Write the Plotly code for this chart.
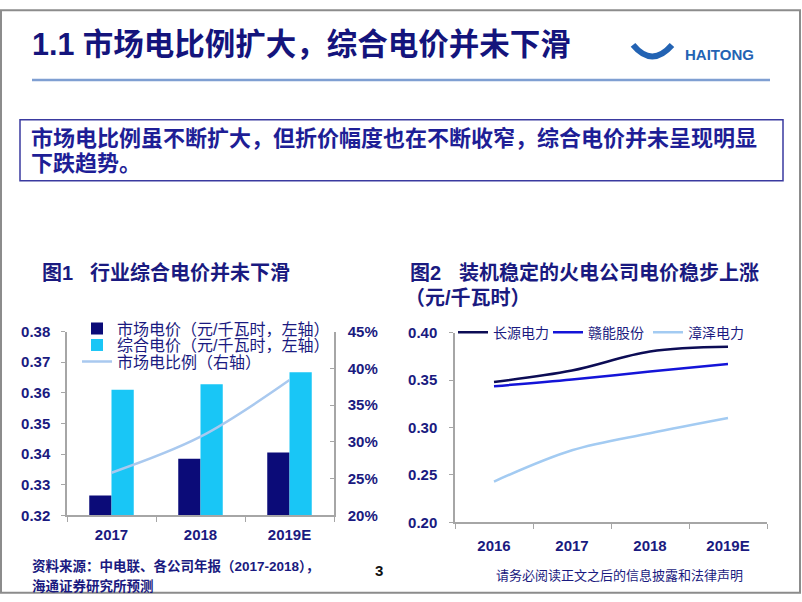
import plotly.graph_objects as go

# ---------------- data ----------------
years1 = ["2017", "2018", "2019E"]
market_price = [0.3265, 0.3385, 0.3405]       # 市场电价（左轴）
overall_price = [0.3610, 0.3628, 0.3667]      # 综合电价（左轴）
market_share = [0.258, 0.307, 0.384]          # 市场电比例（右轴）

years2 = ["2016", "2017", "2018", "2019E"]
changyuan = [0.348, 0.360, 0.380, 0.385]      # 长源电力
ganneng = [0.3435, 0.3505, 0.359, 0.367]      # 赣能股份
zhangze = [0.243, 0.276, 0.294, 0.310]        # 漳泽电力

W, H = 802, 602


def px(x):
    return x / W


def py(y):
    # y given in target-screen pixels; compensate for page offset/scale
    yf = (y - 9) / 0.973
    yf = min(max(yf, 0), H)
    return 1 - yf / H


NAVY = "#1a1a80"
FONT = "Liberation Sans, Noto Sans CJK SC, Arial, sans-serif"
AXIS_GRAY = "#a6a6a6"

fig = go.Figure()

# chart 1 bars + ratio line
fig.add_trace(go.Bar(x=years1, y=market_price, name="市场电价（元/千瓦时，左轴）",
                     marker_color="#0b0b78", marker_line_width=0,
                     xaxis="x", yaxis="y", legend="legend"))
fig.add_trace(go.Bar(x=years1, y=overall_price, name="综合电价（元/千瓦时，左轴）",
                     marker_color="#19c6f6", marker_line_width=0,
                     xaxis="x", yaxis="y", legend="legend3"))
fig.add_trace(go.Scatter(x=years1, y=market_share, name="市场电比例（右轴）",
                         mode="lines", line=dict(color="#a9c9ef", width=2.5, shape="spline"),
                         xaxis="x", yaxis="y2", legend="legend4"))

# chart 2 lines
fig.add_trace(go.Scatter(x=years2, y=changyuan, name="长源电力", mode="lines",
                         line=dict(color="#0c0c55", width=2.5, shape="spline"),
                         xaxis="x2", yaxis="y3", legend="legend2"))
fig.add_trace(go.Scatter(x=years2, y=ganneng, name="赣能股份", mode="lines",
                         line=dict(color="#1414d8", width=2.5, shape="spline"),
                         xaxis="x2", yaxis="y3", legend="legend5"))
fig.add_trace(go.Scatter(x=years2, y=zhangze, name="漳泽电力", mode="lines",
                         line=dict(color="#a3cbf2", width=2.5, shape="spline"),
                         xaxis="x2", yaxis="y3", legend="legend6"))

tickfont = dict(family=FONT, size=15, color=NAVY, weight="bold")


def leg(x, y, size):
    return dict(x=px(x), y=py(y), xanchor="left", yanchor="middle",
                bgcolor="rgba(0,0,0,0)", font=dict(family=FONT, size=size, color=NAVY),
                itemwidth=30, borderwidth=0)


fig.update_layout(
    width=W, height=H,
    margin=dict(l=0, r=0, t=0, b=0),
    paper_bgcolor="white", plot_bgcolor="rgba(0,0,0,0)",
    barmode="group", bargap=0.5, bargroupgap=0,
    font=dict(family=FONT, color=NAVY),
    xaxis=dict(domain=[px(67), px(334)], type="category", range=[-0.5, 2.5],
               showline=True, linecolor=AXIS_GRAY, linewidth=1.5,
               ticks="outside", tickson="boundaries", ticklen=5, tickcolor=AXIS_GRAY,
               tickfont=tickfont, showgrid=False, zeroline=False,
               ticklabelstandoff=5, anchor="y"),
    yaxis=dict(domain=[py(516), py(332)], range=[0.32, 0.38], dtick=0.01, tickformat=".2f",
               showline=True, linecolor=AXIS_GRAY, linewidth=1.5,
               ticks="outside", ticklen=4, tickcolor=AXIS_GRAY,
               tickfont=tickfont, showgrid=False, zeroline=False,
               ticklabelstandoff=8, anchor="x"),
    yaxis2=dict(domain=[py(516), py(332)], range=[0.20, 0.45], dtick=0.05, tickformat=".0%",
                overlaying="y", side="right", anchor="x",
                showline=True, linecolor=AXIS_GRAY, linewidth=1.5,
                ticks="inside", ticklen=4, tickcolor=AXIS_GRAY,
                tickfont=tickfont, showgrid=False, zeroline=False,
                ticklabelstandoff=9),
    xaxis2=dict(domain=[px(455), px(767)], type="category", range=[-0.5, 3.5],
                showline=True, linecolor=AXIS_GRAY, linewidth=1.5,
                ticks="outside", tickson="boundaries", ticklen=5, tickcolor=AXIS_GRAY,
                tickfont=tickfont, showgrid=False, zeroline=False,
                ticklabelstandoff=9, anchor="y3"),
    yaxis3=dict(domain=[py(523), py(333)], range=[0.20, 0.40], dtick=0.05, tickformat=".2f",
                showline=True, linecolor=AXIS_GRAY, linewidth=1.5,
                ticks="outside", ticklen=4, tickcolor=AXIS_GRAY,
                tickfont=tickfont, showgrid=False, zeroline=False,
                ticklabelstandoff=9, anchor="x2"),
    # chart 1 legend rows
    legend=leg(77, 329, 16),
    legend3=leg(77, 345.5, 16),
    legend4=leg(77, 362, 16),
    # chart 2 legend entries
    legend2=leg(453, 333, 14),
    legend5=leg(548, 333, 14),
    legend6=leg(648, 333, 14),
    showlegend=True,
)

shapes = [
    # outer frame
    dict(type="rect", xref="paper", yref="paper", x0=px(1), x1=px(800), y0=0.002, y1=0.998,
         line=dict(color="#8c8c8c", width=2)),
    # heading rule
    dict(type="line", xref="paper", yref="paper", x0=px(32), x1=px(770), y0=py(80), y1=py(80),
         line=dict(color="#7f9fd2", width=2.5)),
    # summary box
    dict(type="rect", xref="paper", yref="paper", x0=px(20), x1=px(783), y0=py(181), y1=py(120),
         line=dict(color="#3a3aa0", width=1.5)),
    # logo emblem (simplified)
    dict(type="path", xref="paper", yref="paper",
         path=f"M {px(633)},{py(45)} Q {px(652)},{py(68)} {px(672)},{py(45)}",
         line=dict(color="#2363b3", width=6)),
]
fig.update_layout(shapes=shapes)


def ann(text, x, y, size, color=NAVY, bold=True, xanchor="left"):
    return dict(text=text, x=px(x), y=py(y), xref="paper", yref="paper",
                xanchor=xanchor, yanchor="middle", showarrow=False,
                font=dict(family=FONT, size=size, color=color,
                          weight="bold" if bold else "normal"))


annotations = [
    ann("1.1 市场电比例扩大，综合电价并未下滑", 30, 44, 30.5, color="#14147c"),
    ann("HAITONG", 683, 55, 15, color="#2363b3"),
    ann("市场电比例虽不断扩大，但折价幅度也在不断收窄，综合电价并未呈现明显", 29, 139, 22, color="#1e1e96"),
    ann("下跌趋势。", 29, 164, 22, color="#1e1e96"),
    ann("图1", 40, 273, 20),
    ann("行业综合电价并未下滑", 88, 273, 20),
    ann("图2", 408, 273, 20),
    ann("装机稳定的火电公司电价稳步上涨", 457, 273, 20),
    ann("（元/千瓦时）", 403, 298, 20),
    ann("资料来源：中电联、各公司年报（2017-2018），", 30, 567, 13.5),
    ann("海通证券研究所预测", 30, 587, 13.5),
    ann("3", 373, 571, 15, color="#111111"),
    ann("请务必阅读正文之后的信息披露和法律声明", 494, 576, 13, bold=False),
]
fig.update_layout(annotations=annotations)

fig.write_html("out.html", config={"displayModeBar": False},
               post_script="document.body.style.margin='0';")
